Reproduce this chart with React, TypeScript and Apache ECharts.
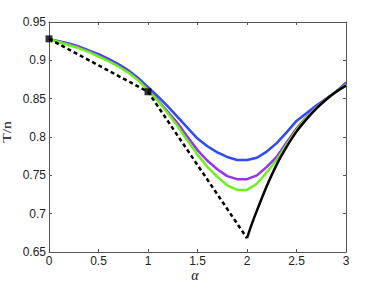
import React, { useEffect, useRef } from "react";
import * as echarts from "echarts";

const alphaGrid = [0, 0.1, 0.2, 0.3, 0.4, 0.5, 0.6, 0.7, 0.8, 0.9, 1.0, 1.1, 1.2, 1.3, 1.4, 1.5, 1.6, 1.7, 1.8, 1.9, 2.0, 2.1, 2.2, 2.3, 2.4, 2.5, 2.6, 2.7, 2.8, 2.9, 3.0];
const blueValues = [0.928, 0.925, 0.922, 0.918, 0.913, 0.908, 0.902, 0.895, 0.887, 0.877, 0.865, 0.853, 0.840, 0.826, 0.812, 0.798, 0.788, 0.780, 0.774, 0.770, 0.770, 0.773, 0.781, 0.792, 0.806, 0.821, 0.831, 0.841, 0.850, 0.859, 0.871];
const purpleValues = [0.928, 0.924, 0.921, 0.917, 0.912, 0.906, 0.900, 0.893, 0.885, 0.875, 0.862, 0.848, 0.833, 0.818, 0.800, 0.783, 0.769, 0.758, 0.749, 0.745, 0.745, 0.750, 0.761, 0.774, 0.793, 0.811, 0.826, 0.839, 0.850, 0.859, 0.869];
const greenValues = [0.928, 0.924, 0.920, 0.916, 0.911, 0.905, 0.899, 0.892, 0.884, 0.874, 0.861, 0.847, 0.831, 0.814, 0.795, 0.777, 0.761, 0.748, 0.737, 0.731, 0.731, 0.739, 0.754, 0.770, 0.790, 0.809, 0.825, 0.838, 0.849, 0.859, 0.868];
const blackAlpha = [2.0, 2.05, 2.1, 2.2, 2.3, 2.4, 2.5, 2.6, 2.7, 2.8, 2.9, 3.0];
const blackValues = [0.668, 0.687, 0.704, 0.736, 0.764, 0.787, 0.807, 0.823, 0.837, 0.849, 0.859, 0.867];
const dashedAlpha = [0, 1, 2];
const dashedValues = [0.928, 0.859, 0.668];
const markerAlpha = [0, 1];
const markerValues = [0.928, 0.859];

const pair = (xs: number[], ys: number[]) => xs.map((x, i) => [x, ys[i]]);

export default function App() {
  const ref = useRef<HTMLDivElement>(null);
  useEffect(() => {
    document.body.style.margin = "0";
    if (!ref.current) return;
    const chart = echarts.init(ref.current, undefined, { renderer: "svg" });
    const axisColor = "#555";
    const labelStyle = { color: "#222", fontSize: 12, fontFamily: "Liberation Sans, Arial, sans-serif" };
    chart.setOption({
      animation: false,
      backgroundColor: "#fff",
      grid: { left: 49, top: 22, right: 36, bottom: 33 },
      xAxis: [
        {
          type: "value", min: 0, max: 3, interval: 0.5, position: "bottom",
          axisLine: { show: true, onZero: false, lineStyle: { color: axisColor, width: 1 } },
          axisTick: { show: true, inside: true, length: 3, lineStyle: { color: axisColor } },
          axisLabel: { ...labelStyle, margin: 3 },
          splitLine: { show: false },
        },
        {
          type: "value", min: 0, max: 3, interval: 0.5, position: "top",
          axisLine: { show: true, onZero: false, lineStyle: { color: axisColor, width: 1 } },
          axisTick: { show: true, inside: true, length: 3, lineStyle: { color: axisColor } },
          axisLabel: { show: false },
          splitLine: { show: false },
        },
      ],
      yAxis: [
        {
          type: "value", min: 0.65, max: 0.95, interval: 0.05, position: "left",
          axisLine: { show: true, onZero: false, lineStyle: { color: axisColor, width: 1 } },
          axisTick: { show: true, inside: true, length: 3, lineStyle: { color: axisColor } },
          axisLabel: { ...labelStyle, margin: 3 },
          splitLine: { show: false },
        },
        {
          type: "value", min: 0.65, max: 0.95, interval: 0.05, position: "right",
          axisLine: { show: true, onZero: false, lineStyle: { color: axisColor, width: 1 } },
          axisTick: { show: true, inside: true, length: 3, lineStyle: { color: axisColor } },
          axisLabel: { show: false },
          splitLine: { show: false },
        },
      ],
      graphic: [
        {
          type: "text", x: 7, y: 132, rotation: Math.PI / 2, scaleX: 1.3,
          style: { text: "T/n", fontSize: 12, fontFamily: "Liberation Serif, Times New Roman, serif", fill: "#111", align: "center", verticalAlign: "middle" },
        },
        {
          type: "text", x: 195, y: 275,
          style: { text: "α", fontSize: 14, fontStyle: "italic", fontFamily: "Liberation Serif, Times New Roman, serif", fill: "#111", align: "center", verticalAlign: "middle" },
        },
      ],
      series: [
        { type: "line", data: pair(alphaGrid, blueValues), showSymbol: false, lineStyle: { color: "#2d4af5", width: 2.5 }, z: 2 },
        { type: "line", data: pair(alphaGrid, purpleValues), showSymbol: false, lineStyle: { color: "#9b2ff0", width: 2.5 }, z: 3 },
        { type: "line", data: pair(alphaGrid, greenValues), showSymbol: false, lineStyle: { color: "#6ef01c", width: 2.5 }, z: 4 },
        { type: "line", data: pair(blackAlpha, blackValues), showSymbol: false, smooth: 0.3, lineStyle: { color: "#000", width: 2.5 }, z: 5 },
        { type: "line", data: pair(dashedAlpha, dashedValues), showSymbol: false, lineStyle: { color: "#000", width: 2.5, type: [4, 3] }, z: 5 },
        { type: "scatter", data: pair(markerAlpha, markerValues), symbol: "rect", symbolSize: 7, itemStyle: { color: "#000" }, z: 6 },
      ],
    });
    return () => chart.dispose();
  }, []);
  return <div ref={ref} style={{ width: 382, height: 285 }} />;
}
